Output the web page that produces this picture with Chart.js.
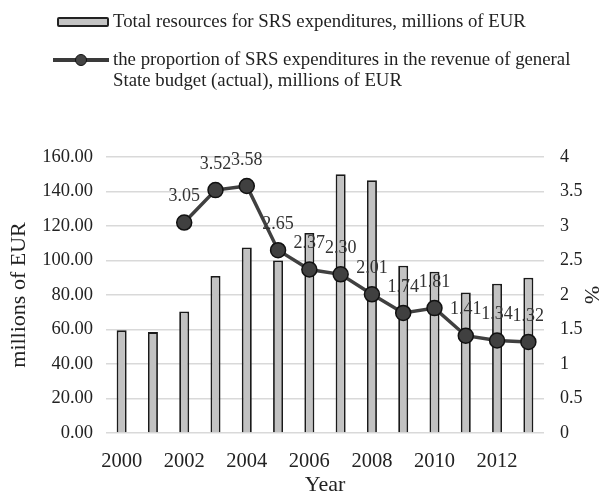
<!DOCTYPE html>
<html>
<head>
<meta charset="utf-8">
<script src="https://cdn.jsdelivr.net/npm/chart.js@4.4.1/dist/chart.umd.min.js"></script>
<style>
    html, body { margin: 0; padding: 0; background: #fff; }
    #wrap { position: relative; width: 604px; height: 494px; }
    #legend {
        position: absolute; left: 0; top: 0; width: 604px;
        font-family: "Liberation Serif", serif; font-size: 18.8px; color: #222;
    }
    .item { position: absolute; left: 113px; line-height: 21px; white-space: nowrap; }
    .swatch-bar {
        position: absolute; left: -56px; top: 7px; width: 52px; height: 10px; box-sizing: border-box;
        background: #c4c4c4; border: 2px solid #222; border-radius: 2px;
    }
    .swatch-line {
        position: absolute; left: -60px; top: 10px; width: 56px; height: 4px; background: #3a3a3a;
    }
    .swatch-line::after {
        content: ""; position: absolute; left: 22px; top: -4px; width: 12px; height: 12px; box-sizing: border-box;
        border-radius: 50%; background: #444; border: 1.5px solid #111;
    }
    canvas { position: absolute; left: 0; top: 0; }
</style>
</head>
<body>
<div id="wrap">
    <canvas id="srsChart" width="604" height="494"></canvas>
    <div id="legend">
        <div class="item" style="top:9.5px"><span class="swatch-bar"></span>Total resources for SRS expenditures, millions of EUR</div>
        <div class="item" style="top:48px"><span class="swatch-line"></span>the proportion of SRS expenditures in the revenue of general<br>State budget (actual), millions of EUR</div>
    </div>
</div>
<script>
// Years and series
const years = ['2000', '2001', '2002', '2003', '2004', '2005', '2006', '2007', '2008', '2009', '2010', '2011', '2012', '2013'];
const totalResources = [59.5, 58.5, 70.5, 91, 107.5, 100, 116, 150, 146.5, 97, 93.5, 81.5, 86.5, 90];
const budgetShare = [null, null, 3.05, 3.52, 3.58, 2.65, 2.37, 2.30, 2.01, 1.74, 1.81, 1.41, 1.34, 1.32];

const serif = '"Liberation Serif", "Times New Roman", serif';

// Value labels above the line points
const pointLabels = {
    id: 'pointLabels',
    afterDatasetsDraw(chart) {
        const ctx = chart.ctx;
        const meta = chart.getDatasetMeta(1);
        ctx.save();
        ctx.font = '18px ' + serif;
        ctx.fillStyle = '#333';
        ctx.textAlign = 'center';
        ctx.textBaseline = 'middle';
        meta.data.forEach((pt, i) => {
            const v = budgetShare[i];
            if (v === null) return;
            ctx.fillText(v.toFixed(2), pt.x, pt.y - 26);
        });
        ctx.restore();
    }
};

new Chart(document.getElementById('srsChart'), {
    data: {
        labels: years,
        datasets: [{
            type: 'bar',
            label: 'Total resources for SRS expenditures, millions of EUR',
            data: totalResources,
            yAxisID: 'y',
            backgroundColor: '#c2c2c2',
            borderColor: '#1a1a1a',
            borderWidth: 1.8,
            barPercentage: 0.32,
            categoryPercentage: 1,
            order: 2
        }, {
            type: 'line',
            label: 'the proportion of SRS expenditures in the revenue of general State budget (actual), millions of EUR',
            data: budgetShare,
            yAxisID: 'y1',
            borderColor: '#404040',
            borderWidth: 3.5,
            pointRadius: 7.5,
            pointBackgroundColor: '#404040',
            pointBorderColor: '#111',
            pointBorderWidth: 1.5,
            tension: 0,
            order: 1
        }]
    },
    options: {
        responsive: false,
        animation: false,
        layout: { padding: { top: 157, left: 0, right: 0, bottom: 0 } },
        plugins: {
            legend: { display: false },
            tooltip: { enabled: false }
        },
        scales: {
            x: {
                grid: { display: false },
                border: { display: false },
                ticks: {
                    autoSkip: false,
                    maxRotation: 0,
                    color: '#222',
                    font: { family: serif, size: 20.5 },
                    padding: 8,
                    callback: function(val, idx) {
                        return idx % 2 === 0 ? years[idx] : '';
                    }
                },
                title: {
                    display: true, text: 'Year', color: '#222',
                    font: { family: serif, size: 22, lineHeight: 1 },
                    padding: { top: 0, bottom: -2 }
                },
                afterFit: function(scale) { scale.height = 61; }
            },
            y: {
                position: 'left',
                min: 0, max: 160,
                ticks: {
                    stepSize: 20,
                    color: '#222',
                    font: { family: serif, size: 18.5 },
                    padding: 13,
                    callback: (val) => val.toFixed(2)
                },
                grid: { color: '#d9d9d9', lineWidth: 1.5, drawTicks: false },
                border: { display: false },
                title: {
                    display: true, text: 'millions of EUR', color: '#222',
                    font: { family: serif, size: 22 },
                    padding: { top: 6, bottom: 0 }
                },
                afterFit: function(scale) { scale.width = 106; }
            },
            y1: {
                position: 'right',
                min: 0, max: 4,
                ticks: {
                    stepSize: 0.5,
                    color: '#222',
                    font: { family: serif, size: 18 },
                    padding: 16,
                    callback: (val) => String(val)
                },
                grid: { display: false, drawTicks: false },
                border: { display: false },
                title: {
                    display: true, text: '%', color: '#222',
                    font: { family: serif, size: 22 },
                    padding: { top: 0, bottom: 0 }
                },
                afterFit: function(scale) { scale.width = 60; }
            }
        }
    },
    plugins: [pointLabels]
});
</script>
</body>
</html>
